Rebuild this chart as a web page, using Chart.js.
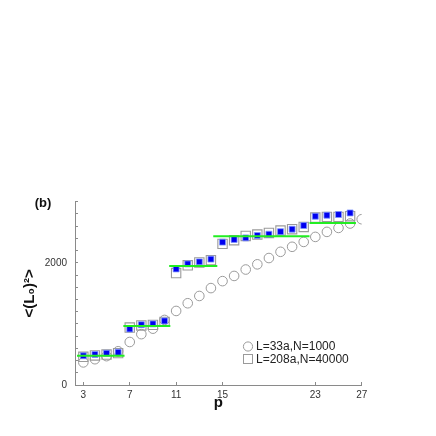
<!DOCTYPE html>
<html>
<head>
<meta charset="utf-8">
<script src="https://cdn.jsdelivr.net/npm/chart.js@4.4.1/dist/chart.umd.min.js"></script>
<style>
  html, body { margin: 0; padding: 0; background: #ffffff; }
  #wrap { width: 436px; height: 436px; position: relative; }
</style>
</head>
<body>
<div id="wrap"><canvas id="c" width="436" height="436"></canvas></div>
<script>
// ---- data ----
const pValues = [3,4,5,6,7,8,9,10,11,12,13,14,15,16,17,18,19,20,21,22,23,24,25,26,27];
const smallSystem = [370,422,472,552,704,832,922,1065,1212,1338,1457,1586,1700,1785,1890,1975,2078,2180,2262,2342,2424,2506,2571,2643,2713];
const largeOutline = [462,483,498,522,940,975,984,1033,1832,1959,2006,2044,2310,2370,2440,2463,2489,2528,2550,2587,2741,2750,2750,2762];
const largeFilled  = [478,499,519,535,918,987,1000,1049,1900,1982,2015,2060,2338,2382,2408,2447,2468,2509,2550,2610,2762,2778,2790,2816];
const plateauStart = [2.45, 6.45, 10.4, 14.2, 22.5];
const plateauEnd   = [6.55, 10.5, 14.55, 22.5, 26.5];
const plateauLevel = [478, 967, 1946, 2435, 2652];
const xTickValues = [3, 7, 11, 15, 23, 27];
const yLabelValues = [0, 2000];
const seriesNames = ['L=33a,N=1000', 'L=208a,N=40000'];

const toPts = (ys) => ys.map((y, i) => ({ x: pValues[i], y }));
const plateauPts = [];
plateauStart.forEach((s, i) => {
  plateauPts.push({ x: s, y: plateauLevel[i] });
  plateauPts.push({ x: plateauEnd[i], y: plateauLevel[i] });
  plateauPts.push({ x: plateauEnd[i], y: null });
});

const FONT = '"Liberation Sans", Arial, Helvetica, sans-serif';

const extras = {
  id: 'extras',
  afterDraw(chart) {
    const ctx = chart.ctx;
    ctx.save();
    // panel label
    ctx.fillStyle = '#111';
    ctx.font = 'bold 13px ' + FONT;
    ctx.textAlign = 'center';
    ctx.textBaseline = 'middle';
    ctx.fillText('(b)', 43, 203);
    // legend
    const ds = chart.data.datasets;
    const lx = 248, rows = [346.5, 359];
    ctx.font = '12px ' + FONT;
    ctx.textAlign = 'left';
    ctx.textBaseline = 'middle';
    // row 1: circle
    ctx.strokeStyle = ds[0].borderColor;
    ctx.lineWidth = 1;
    ctx.beginPath();
    ctx.arc(lx, rows[0], 4.6, 0, Math.PI * 2);
    ctx.stroke();
    ctx.fillStyle = '#222';
    ctx.fillText(seriesNames[0], 256, rows[0] + 0.5);
    // row 2: square
    ctx.strokeStyle = ds[1].borderColor;
    ctx.strokeRect(lx - 4.5, rows[1] - 4.5, 9, 9);
    ctx.fillText(seriesNames[1], 256, rows[1] + 0.5);
    ctx.restore();
  }
};

new Chart(document.getElementById('c'), {
  type: 'scatter',
  data: {
    datasets: [
      {
        label: seriesNames[0],
        data: toPts(smallSystem),
        pointStyle: 'circle',
        pointRadius: 4.8,
        pointBorderWidth: 1,
        borderColor: '#9a9a9a',
        backgroundColor: 'rgba(255,255,255,0)',
        order: 3
      },
      {
        label: seriesNames[1],
        data: toPts(largeOutline),
        pointStyle: 'rect',
        pointRadius: 6.6,
        pointBorderWidth: 1.1,
        borderColor: '#9a9a9a',
        backgroundColor: 'rgba(255,255,255,0)',
        order: 2
      },
      {
        label: 'filled',
        data: toPts(largeFilled),
        pointStyle: 'rect',
        pointRadius: 4.2,
        pointBorderWidth: 0.8,
        borderColor: '#7d95ff',
        backgroundColor: '#0000f0',
        order: 1
      },
      {
        label: 'plateau',
        type: 'line',
        data: plateauPts,
        borderColor: '#22ee22',
        borderWidth: 2,
        pointRadius: 0,
        spanGaps: false,
        fill: false,
        order: 0
      }
    ]
  },
  options: {
    responsive: false,
    animation: false,
    events: [],
    layout: { padding: { left: 0, top: 201.7, right: 74.3, bottom: 1 } },
    plugins: {
      legend: { display: false },
      tooltip: { enabled: false },
      title: { display: false }
    },
    scales: {
      x: {
        type: 'linear',
        min: 2.28,
        max: 27,
        afterBuildTicks: (s) => { s.ticks = xTickValues.map(v => ({ value: v })); },
        afterFit: (s) => { s.height = 50; },
        border: { display: true, color: '#8a8a8a', width: 1 },
        grid: { drawOnChartArea: false, drawTicks: true, tickLength: -3, color: '#8a8a8a' },
        ticks: { padding: 7, color: '#333', font: { family: FONT, size: 10 }, maxRotation: 0, autoSkip: false },
        title: { display: true, text: 'p', color: '#111', font: { family: FONT, size: 15, weight: 'bold' }, padding: { top: 0, bottom: 23.5 } }
      },
      y: {
        type: 'linear',
        min: 0,
        max: 3000,
        afterFit: (s) => { s.width = 75; },
        border: { display: true, color: '#8a8a8a', width: 1 },
        grid: { drawOnChartArea: false, drawTicks: true, tickLength: -3, color: '#8a8a8a' },
        ticks: {
          stepSize: 200,
          padding: 11,
          color: '#333',
          font: { family: FONT, size: 10 },
          autoSkip: false,
          callback: (v) => yLabelValues.includes(v) ? String(v) : ''
        },
        title: { display: true, text: '<(L\u2080)\u00b2>', color: '#111', font: { family: FONT, size: 15, weight: 'bold' }, padding: { top: 21, bottom: 0 } }
      }
    }
  },
  plugins: [extras]
});
</script>
</body>
</html>
